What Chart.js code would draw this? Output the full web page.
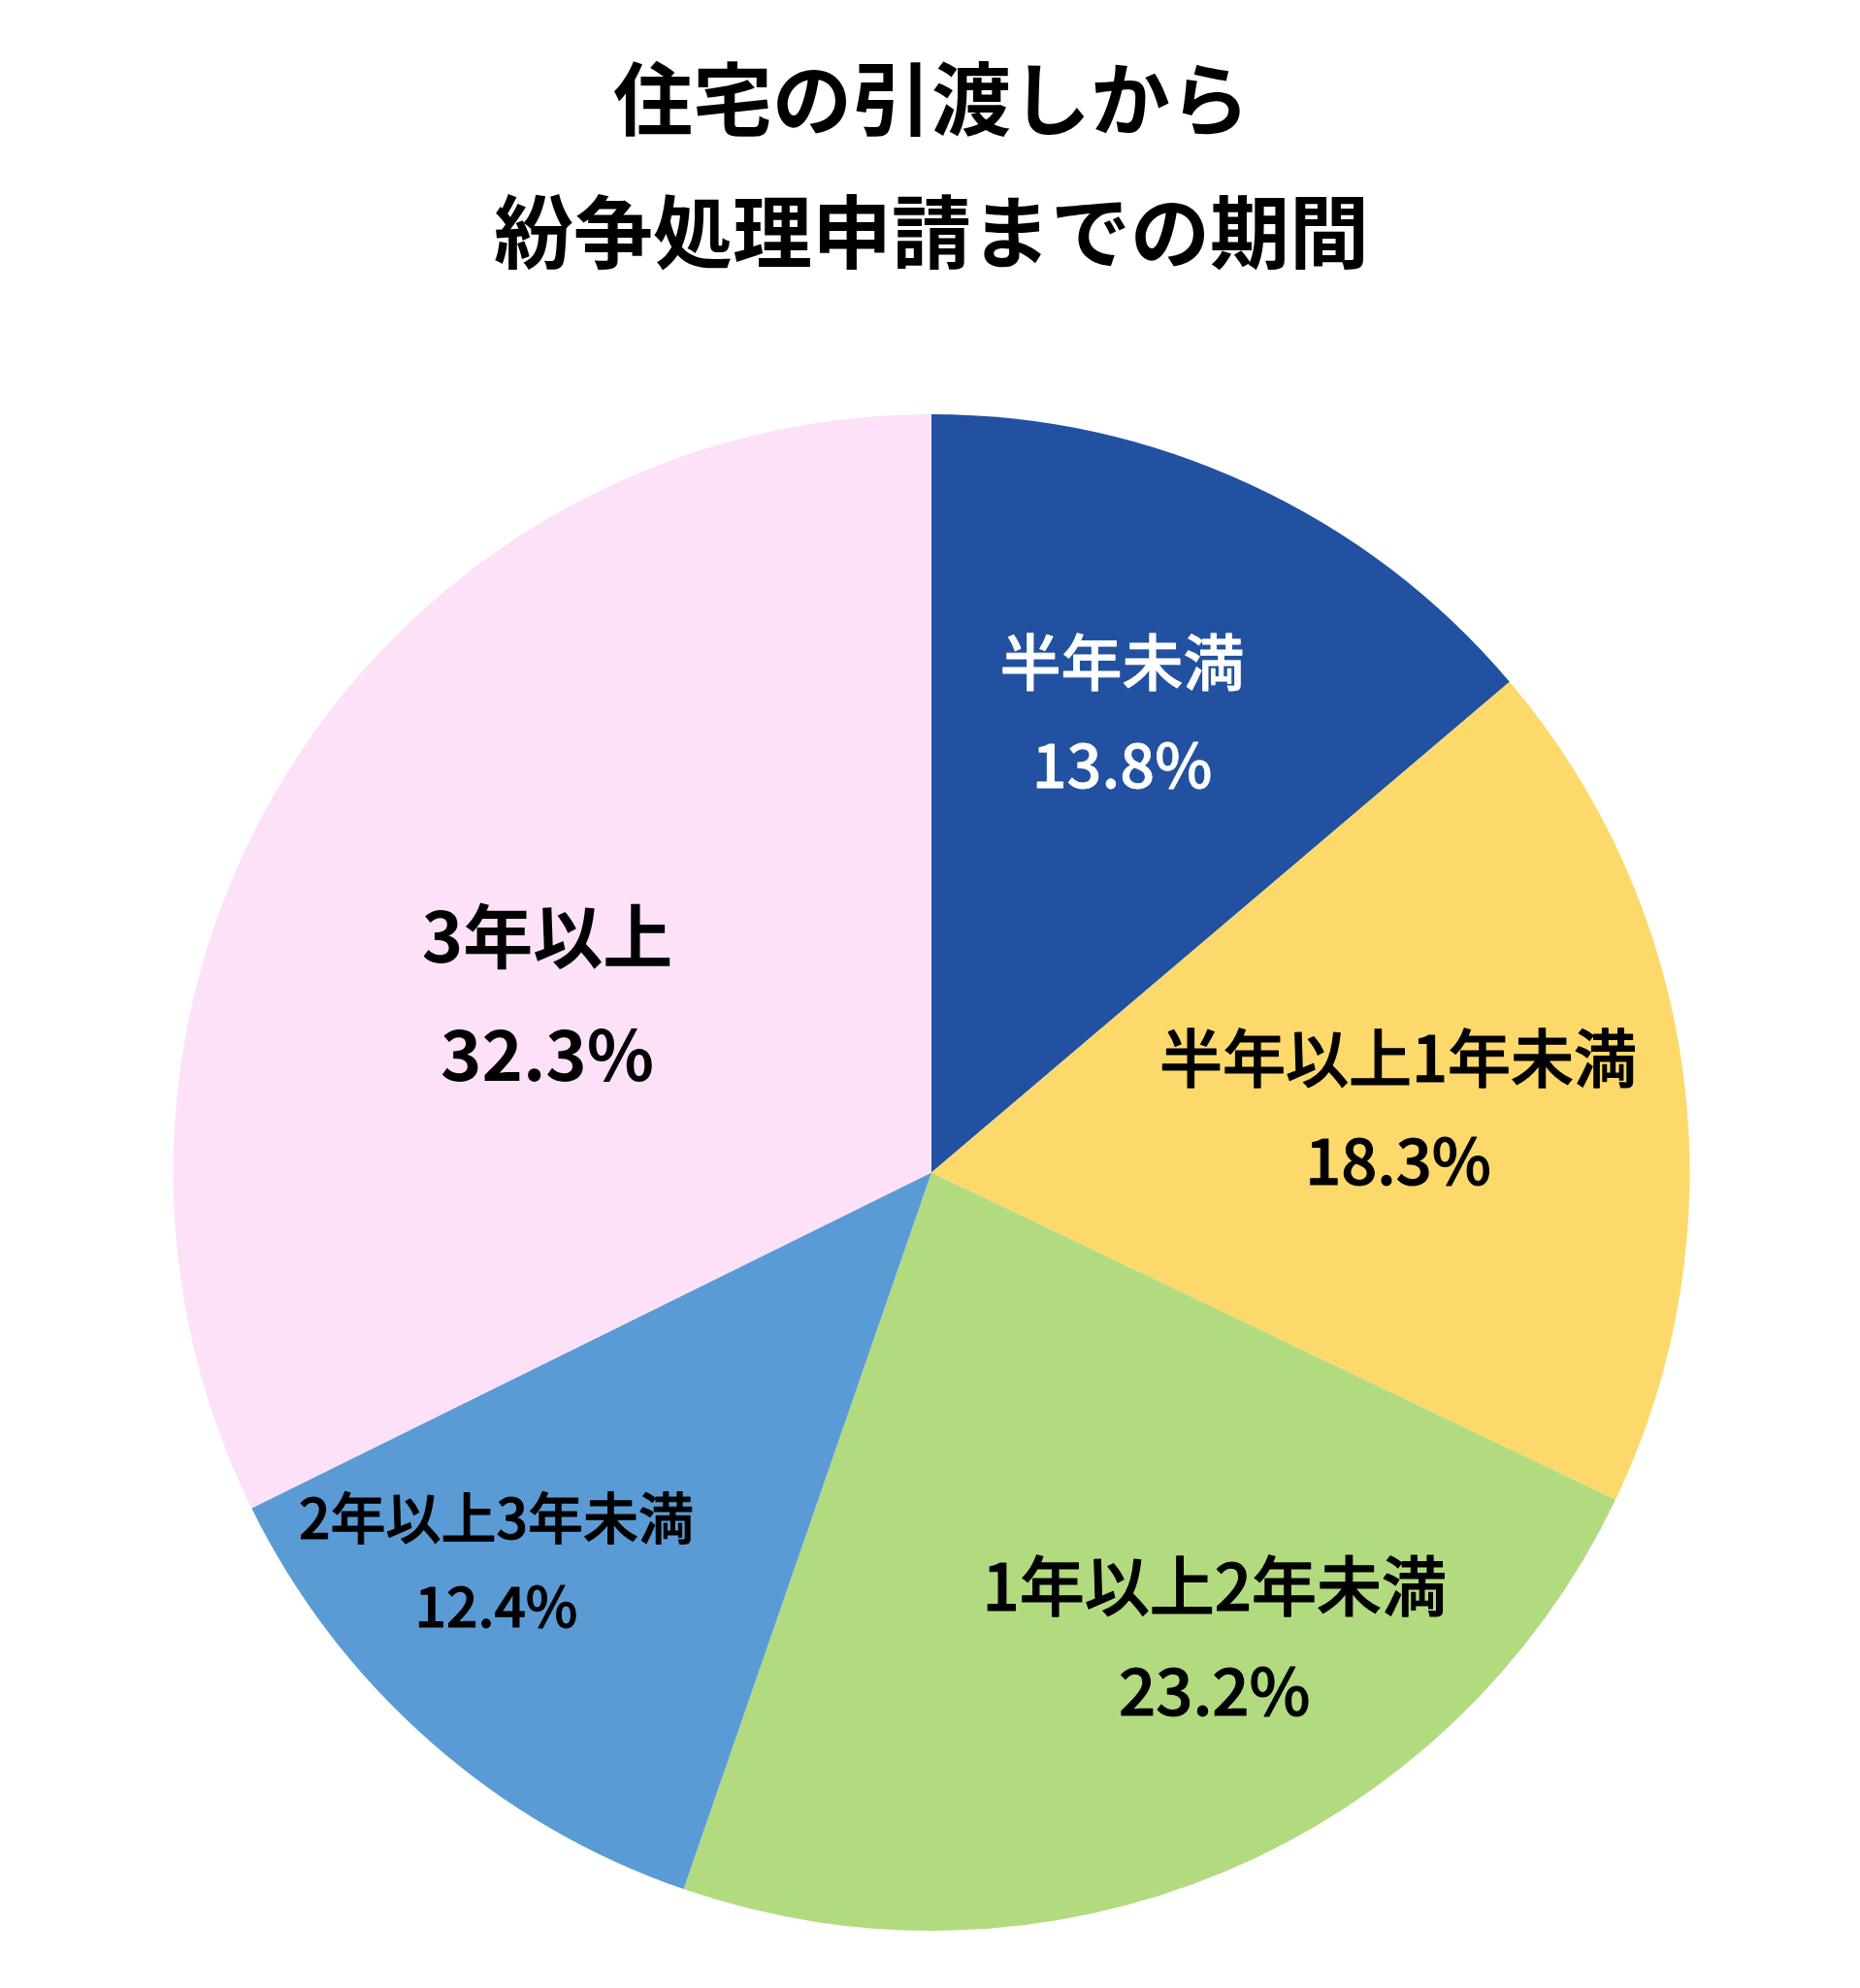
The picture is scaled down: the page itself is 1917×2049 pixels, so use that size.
<!DOCTYPE html>
<html>
<head>
<meta charset="utf-8">
<script src="https://cdn.jsdelivr.net/npm/chart.js@4"></script>
<style>
html,body{margin:0;padding:0;background:#ffffff;}
#wrap{width:1917px;height:2049px;}
</style>
</head>
<body>
<div id="wrap"><canvas id="c" width="1917" height="2049"></canvas></div>
<script>
const titleLines = ['住宅の引渡しから', '紛争処理申請までの期間'];
const categories = ['半年未満', '半年以上1年未満', '1年以上2年未満', '2年以上3年未満', '3年以上'];
const values = [13.8, 18.3, 23.2, 12.4, 32.3];
const colors = ['#2151A0', '#FDD96B', '#B2DB80', '#5B9BD5', '#FCE1F9'];
const labelColors = ['#ffffff', '#000000', '#000000', '#000000', '#000000'];
const labelSizes = [63, 65, 67, 57, 72];
const labelWeights = ['500', '500', '500', '500', 'bold'];
const labelStroke = [0.8, 1.1, 1.1, 1.0, 0];
// label placement relative to each slice: angle offset (deg) and radius fraction
const labelAngleAdj = [-2.3, -0.3, -8.6, 6.8, -7.1];
const labelRadius = [0.656, 0.621, 0.719, 0.77, 0.558];
const labelGap = [106, 106, 108, 91, 122];

const FONT = '"Noto Sans CJK JP", "Noto Sans", sans-serif';

const sliceLabels = {
  id: 'sliceLabels',
  afterDatasetsDraw(chart) {
    const ctx = chart.ctx;
    const meta = chart.getDatasetMeta(0);
    meta.data.forEach((arc, i) => {
      const p = arc.getProps(['x', 'y', 'startAngle', 'endAngle', 'outerRadius'], true);
      const mid = (p.startAngle + p.endAngle) / 2 + labelAngleAdj[i] * Math.PI / 180;
      const r = p.outerRadius * labelRadius[i];
      const cx = p.x + Math.cos(mid) * r;
      const cy = p.y + Math.sin(mid) * r;
      ctx.save();
      ctx.fillStyle = labelColors[i];
      ctx.strokeStyle = labelColors[i];
      ctx.lineWidth = labelStroke[i];
      ctx.lineJoin = 'round';
      ctx.textAlign = 'center';
      ctx.textBaseline = 'middle';
      ctx.font = labelWeights[i] + ' ' + labelSizes[i] + 'px ' + FONT;
      const lines = [categories[i], values[i].toFixed(1) + '%'];
      const ys = [cy - labelGap[i] / 2, cy + labelGap[i] / 2];
      lines.forEach((t, k) => {
        ctx.fillText(t, cx, ys[k]);
        if (labelStroke[i] > 0) ctx.strokeText(t, cx, ys[k]);
      });
      ctx.restore();
    });
  }
};

new Chart(document.getElementById('c'), {
  type: 'pie',
  data: {
    labels: categories,
    datasets: [{
      data: values,
      backgroundColor: colors,
      borderWidth: 0
    }]
  },
  options: {
    responsive: false,
    devicePixelRatio: 1,
    animation: false,
    layout: { padding: { left: 3, bottom: 59 } },
    plugins: {
      legend: { display: false },
      tooltip: { enabled: false },
      title: {
        display: true,
        text: titleLines,
        color: '#000000',
        font: { family: FONT, size: 82, weight: 'bold', lineHeight: '137px' },
        padding: { top: 33.5, bottom: 119.5 }
      }
    }
  },
  plugins: [sliceLabels]
});
</script>
</body>
</html>
